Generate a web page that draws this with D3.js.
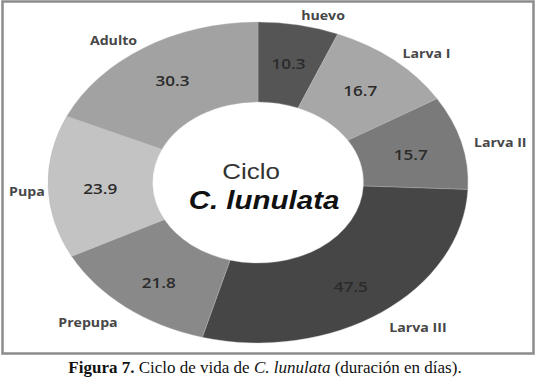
<!DOCTYPE html>
<html lang="es">
<head>
<meta charset="UTF-8">
<title>Ciclo de vida de C. lunulata</title>
<script src="https://d3js.org/d3.v7.min.js"></script>
<style>
    body { margin: 0; background: #fff; }
    svg { display: block; }
    .val { font-family: "Open Sans", sans-serif; font-weight: 600; font-size: 14.5px; fill: #2b2b2b; }
    .cat { font-family: "Open Sans", sans-serif; font-weight: 700; font-size: 12px; fill: #474747; }
    .caption { font-family: "Liberation Serif", serif; font-size: 17px; fill: #111; }
</style>
</head>
<body>
<div id="chart"></div>
<script>
    // etapas y duración (días)
    const stages = ["huevo", "Larva I", "Larva II", "Larva III", "Prepupa", "Pupa", "Adulto"];
    const days = [10.3, 16.7, 15.7, 47.5, 21.8, 23.9, 30.3];
    const greys = ["#555555", "#a7a7a7", "#7a7a7a", "#464646", "#898989", "#c3c3c3", "#a2a2a2"];

    const width = 536, height = 381;
    const cx = 258, cy = 182.5;
    const R = 210, r = 105.5;
    const k = 0.764;      // aplastado vertical de la dona
    const sx = 1.18;      // texto estirado en horizontal

    const svg = d3.select("#chart").append("svg")
        .attr("width", width)
        .attr("height", height);

    // marco
    svg.append("rect")
        .attr("x", 2.5).attr("y", 1.5)
        .attr("width", 531).attr("height", 352)
        .attr("fill", "none")
        .attr("stroke", "#8c8c8c")
        .attr("stroke-width", 2.5);

    const pie = d3.pie().sort(null).value(d => d);
    const arcs = pie(days);
    const arc = d3.arc().innerRadius(r).outerRadius(R);

    const g = svg.append("g")
        .attr("transform", `translate(${cx},${cy}) scale(1,${k})`);

    g.selectAll("path")
        .data(arcs)
        .enter().append("path")
        .attr("d", arc)
        .attr("fill", (d, i) => greys[i])
        .attr("stroke", "#bdbdbd")
        .attr("stroke-width", 0.4);

    // valores dentro de cada sector
    svg.selectAll("text.val")
        .data(arcs)
        .enter().append("text")
        .attr("class", "val")
        .attr("text-anchor", "middle")
        .attr("dominant-baseline", "central")
        .attr("transform", d => {
            const c = arc.centroid(d);
            const mid = (d.startAngle + d.endAngle) / 2;
            const x = cx + c[0];
            const y = cy + c[1] * k - 4 * Math.cos(mid) + 3;
            return `translate(${x},${y}) scale(${sx},1)`;
        })
        .text(d => d.data.toFixed(1));

    // nombres de las etapas fuera de la dona
    const gap = 13, margin = 9;
    svg.selectAll("text.cat")
        .data(arcs)
        .enter().append("text")
        .attr("class", "cat")
        .attr("text-anchor", "middle")
        .attr("dominant-baseline", "central")
        .text((d, i) => stages[i])
        .attr("transform", function(d) {
            const mid = (d.startAngle + d.endAngle) / 2;
            const w = this.getComputedTextLength() * sx;
            const s = Math.sin(mid), c = Math.cos(mid);
            let x = cx + (R + gap) * s + Math.sign(s) * w / 2;
            x = Math.max(margin + w / 2, Math.min(width - margin - w / 2, x));
            const y = cy - (R + gap) * k * c - c * 4 + 4;
            return `translate(${x},${y}) scale(${sx},1)`;
        });

    // texto central
    svg.append("text")
        .attr("transform", `translate(251,171) scale(${sx},1)`)
        .attr("text-anchor", "middle")
        .attr("dominant-baseline", "central")
        .style("font-family", "Liberation Sans, Arial, sans-serif")
        .style("font-size", "22px")
        .style("fill", "#333")
        .text("Ciclo");

    svg.append("text")
        .attr("transform", `translate(264,200) scale(${sx},1)`)
        .attr("text-anchor", "middle")
        .attr("dominant-baseline", "central")
        .style("font-family", "Liberation Sans, Arial, sans-serif")
        .style("font-size", "25px")
        .style("font-weight", "bold")
        .style("font-style", "italic")
        .style("fill", "#111")
        .text("C. lunulata");

    // pie de figura
    const cap = svg.append("text")
        .attr("class", "caption")
        .attr("x", 265)
        .attr("y", 373)
        .attr("text-anchor", "middle");
    cap.append("tspan").style("font-weight", "bold").text("Figura 7.");
    cap.append("tspan").text(" Ciclo de vida de ");
    cap.append("tspan").style("font-style", "italic").text("C. lunulata");
    cap.append("tspan").text(" (duración en días).");
</script>
</body>
</html>
